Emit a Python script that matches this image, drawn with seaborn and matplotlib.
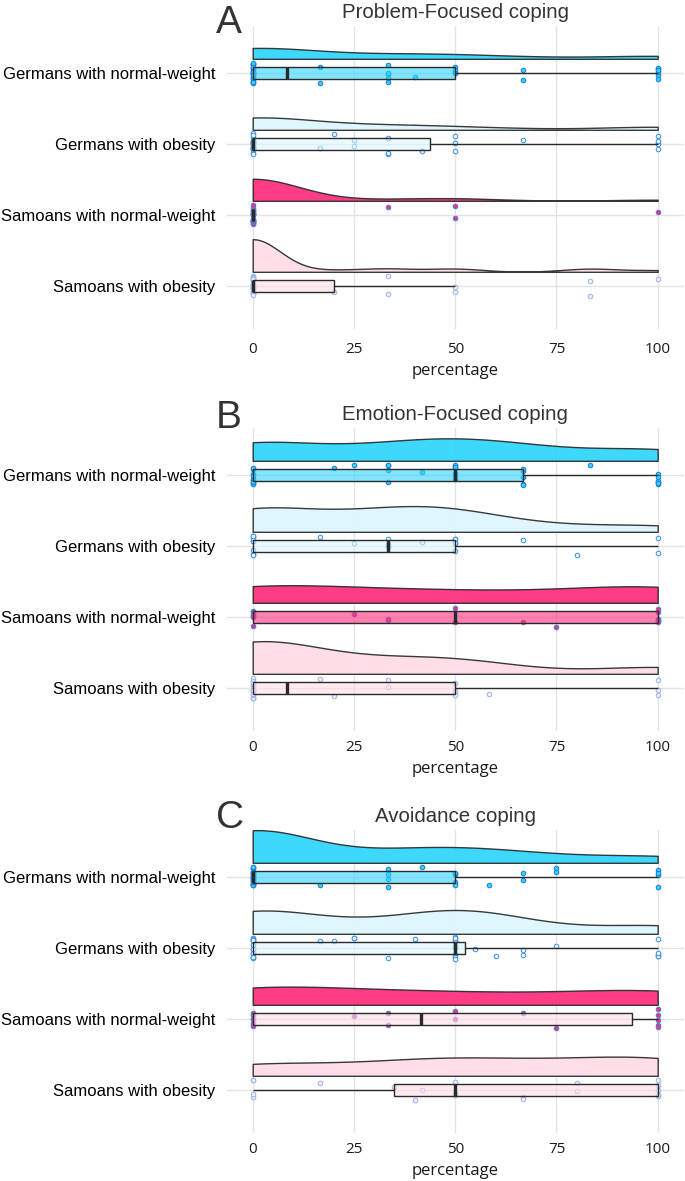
import numpy as np
import pandas as pd
import matplotlib
matplotlib.use("Agg")
import matplotlib.pyplot as plt
import matplotlib.transforms as mtransforms
import seaborn as sns

# ---------------- data ----------------
groups = ["Germans with normal-weight", "Germans with obesity",
          "Samoans with normal-weight", "Samoans with obesity"]
panel_titles = ["Problem-Focused coping", "Emotion-Focused coping", "Avoidance coping"]
panel_letters = ["A", "B", "C"]
x_ticks = [0, 25, 50, 75, 100]
x_label = "percentage"

# Panel A: Problem-Focused coping (percentages per participant)
pf_ger_normal = [0, 0, 0, 0, 0, 0, 0, 0, 0, 0, 0, 0, 0, 0, 0, 0, 0, 0, 0, 0, 0,
                 16.7, 16.7, 33.3, 33.3, 33.3, 33.3, 33.3, 40, 50, 50, 50, 50, 50,
                 66.7, 66.7, 100, 100, 100, 100, 100, 100]
pf_ger_obese = [0, 0, 0, 0, 0, 0, 0, 0, 0, 0, 0, 0, 0, 0, 0, 0, 0, 0, 0,
                16.7, 20, 25, 25, 33.3, 33.3, 33.3, 41.7, 50, 50, 50, 66.7,
                100, 100, 100, 100, 100]
pf_sam_normal = [0, 0, 0, 0, 0, 0, 0, 0, 0, 0, 0, 0, 0, 0, 0, 0, 0, 0, 0, 0,
                 33.3, 50, 50, 100]
pf_sam_obese = [0, 0, 0, 0, 0, 0, 0, 0, 0, 0, 0, 0, 0, 0, 0, 0, 0, 0, 0, 0, 0,
                20, 33.3, 33.3, 50, 50, 83.3, 83.3, 100]

# Panel B: Emotion-Focused coping
ef_ger_normal = [0, 0, 0, 0, 0, 0, 0, 0, 0, 0, 20, 25, 33.3, 33.3, 33.3, 33.3, 41.7,
                 50, 50, 50, 50, 50, 50, 50, 66.7, 66.7, 66.7, 66.7, 66.7, 83.3,
                 100, 100, 100, 100, 100, 100]
ef_ger_obese = [0, 0, 0, 0, 0, 0, 0, 0, 16.7, 25, 33.3, 33.3, 33.3, 33.3, 41.7,
                50, 50, 50, 50, 50, 66.7, 80, 100, 100]
ef_sam_normal = [0, 0, 0, 0, 0, 0, 25, 33.3, 33.3, 50, 50, 66.7, 75,
                 100, 100, 100, 100, 100, 100]
ef_sam_obese = [0, 0, 0, 0, 0, 0, 0, 0, 0, 0, 0, 0, 0, 16.7, 20, 33.3, 33.3, 33.3,
                50, 50, 50, 50, 58.3, 100, 100, 100]

# Panel C: Avoidance coping
av_ger_normal = [0, 0, 0, 0, 0, 0, 0, 0, 0, 0, 0, 0, 0, 0, 0, 0, 0, 0, 0, 0, 0,
                 16.7, 33.3, 33.3, 33.3, 33.3, 41.7, 50, 50, 50, 50, 50, 58.3,
                 66.7, 66.7, 75, 75, 100, 100, 100, 100]
av_ger_obese = [0, 0, 0, 0, 0, 0, 0, 0, 0, 0, 0, 0, 0,
                16.7, 20, 25, 25, 33.3, 40,
                50, 50, 50, 50, 50, 50, 50, 50, 50, 50,
                55, 60, 66.7, 66.7, 75, 100, 100, 100, 100, 100]
av_sam_normal = [0, 0, 0, 0, 0, 0, 25, 33.3, 33.3, 50, 50, 66.7, 75,
                 100, 100, 100, 100, 100]
av_sam_obese = [0, 0, 0, 0, 16.7, 35, 40, 41.7, 50, 50, 50, 66.7, 66.7, 80, 80,
                100, 100, 100, 100, 100, 100]

panel_data = [
    [pf_ger_normal, pf_ger_obese, pf_sam_normal, pf_sam_obese],
    [ef_ger_normal, ef_ger_obese, ef_sam_normal, ef_sam_obese],
    [av_ger_normal, av_ger_obese, av_sam_normal, av_sam_obese],
]

# ---------------- style ----------------
violin_colors = ["#2FD5FD", "#DCF6FD", "#FF2E7E", "#FFDCE7"]
box_colors = [
    ["#2FD5FD", "#DCF6FD", "#FF2E7E", "#FFDCE7"],
    ["#2FD5FD", "#DCF6FD", "#FF2E7E", "#FFDCE7"],
    ["#2FD5FD", "#DCF6FD", "#FFDCE7", "#FFDCE7"],
]
point_fill = ["#2FD5FD", "#E6F8FE", "#FF2E7E", "#FFE6EE"]
point_edge = ["#1F78D6", "#3C8EE0", "#4A7FD0", "#94B8E8"]

sns.set_theme(style="white")
plt.rcParams["font.family"] = ["Liberation Sans", "DejaVu Sans"]

W, H = 685, 1181
fig = plt.figure(figsize=(W / 100, H / 100), dpi=100)

x_left_px, x_right_px = 226.8, 684.0
row_px = 71.0
ylim_top, ylim_bot = -0.66, 3.6
first_row_px = [73, 475, 877]
letter_baseline_px = [33, 428, 828]
tick_pad = [10, 7, 7]
cloud_gap = 0.2


def nrd0_factor(kde):
    x = np.asarray(kde.dataset).ravel()
    n = x.size
    sd = np.std(x, ddof=1)
    q75, q25 = np.percentile(x, [75, 25])
    lo = min(sd, (q75 - q25) / 1.34)
    if lo == 0:
        lo = sd if sd > 0 else 1.0
    bw = 0.9 * lo * n ** (-0.2)
    return bw / sd if sd > 0 else 1.0


np.random.seed(7)

for p in range(3):
    rows = []
    for g, vals in zip(groups, panel_data[p]):
        for v in vals:
            rows.append((g, v))
    df = pd.DataFrame(rows, columns=["group", "value"])

    top_px = first_row_px[p] + ylim_top * row_px
    height_px = (ylim_bot - ylim_top) * row_px
    ax = fig.add_axes([x_left_px / W, 1 - (top_px + height_px) / H,
                       (x_right_px - x_left_px) / W, height_px / H])

    # half violins (rain clouds)
    n_before = len(ax.collections)
    sns.violinplot(data=df, x="value", y="group", order=groups, orient="h",
                   split=True, inner=None, cut=0, density_norm="area",
                   bw_method=nrd0_factor, width=0.46, linewidth=1.0,
                   linecolor="#2a2a2a", color=violin_colors[0], saturation=1,
                   ax=ax)
    for i, coll in enumerate(ax.collections[n_before:]):
        verts = np.concatenate([pth.vertices for pth in coll.get_paths()])
        base = verts[:, 1].max()
        dy = (i - cloud_gap) - base
        coll.set_transform(mtransforms.Affine2D().translate(0, dy) + ax.transData)
        coll.set_facecolor(violin_colors[i])
        coll.set_alpha(0.93)

    # jittered raw points
    for i, g in enumerate(groups):
        sns.stripplot(data=df[df["group"] == g], x="value", y="group", order=groups,
                      orient="h", jitter=0.15, size=3.3, color=point_fill[i],
                      edgecolor=point_edge[i], linewidth=0.7, ax=ax, zorder=3)

    # boxplots
    n_patches = len(ax.patches)
    sns.boxplot(data=df, x="value", y="group", order=groups, orient="h",
                hue="group", hue_order=groups, palette=box_colors[p], legend=False,
                dodge=False, width=0.16, whis=1.5, showfliers=False, showcaps=False,
                saturation=1, linewidth=1.0, linecolor="#2a2a2a",
                medianprops=dict(linewidth=2.4, color="#2a2a2a"), ax=ax)
    for patch in ax.patches[n_patches:]:
        fc = patch.get_facecolor()
        patch.set_facecolor((fc[0], fc[1], fc[2], 0.6))
        patch.set_zorder(4)
    for line in ax.lines:
        line.set_zorder(5)

    ax.set_xlim(-6.4, 106.5)
    ax.set_ylim(ylim_bot, ylim_top)
    ax.set_xticks(x_ticks)
    ax.set_xticklabels([str(t) for t in x_ticks])
    ax.set_xlabel(x_label, fontsize=12, family=["Open Sans", "DejaVu Sans"],
                  color="#1a1a1a", labelpad=4)
    ax.set_ylabel("")
    ax.tick_params(axis="x", length=0, pad=tick_pad[p], labelsize=11,
                   labelcolor="#1a1a1a")
    ax.tick_params(axis="y", length=0, pad=8, labelsize=12, labelcolor="black")
    for lab in ax.get_xticklabels():
        lab.set_family(["Open Sans", "DejaVu Sans"])
    ax.grid(True, axis="both", color="#E3E3E3", linewidth=1.0)
    ax.set_axisbelow(True)
    for s in ax.spines.values():
        s.set_visible(False)

    # title and panel letter
    fig.text((x_left_px + x_right_px) / 2 / W, 1 - (top_px - 14) / H, panel_titles[p],
             ha="center", va="center", fontsize=14.7, color="#333333")
    fig.text(216 / W, 1 - letter_baseline_px[p] / H, panel_letters[p],
             ha="left", va="baseline", fontsize=28, color="#333333")

fig.savefig("out.png", dpi=100)
